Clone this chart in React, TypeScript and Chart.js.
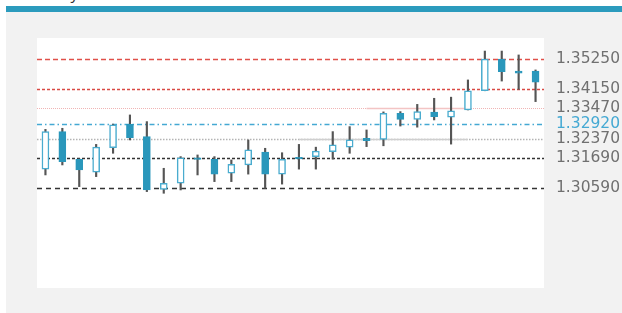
import React, { useEffect, useRef } from "react";
import { Chart, registerables } from "chart.js";

Chart.register(...registerables);

const categories: string[] = [
  "1", "2", "3", "4", "5", "6", "7", "8", "9", "10",
  "11", "12", "13", "14", "15", "16", "17", "18", "19", "20",
  "21", "22", "23", "24", "25", "26", "27", "28", "29", "30",
];
const opens: number[] = [
  1.3128, 1.3263, 1.3163, 1.3117, 1.3205, 1.3289, 1.3245, 1.3055, 1.3077, 1.3169,
  1.3163, 1.3113, 1.3143, 1.3189, 1.311, 1.317, 1.3173, 1.3191, 1.3207, 1.3239,
  1.3235, 1.3329, 1.3307, 1.3333, 1.3315, 1.3341, 1.341, 1.3524, 1.3481, 1.3481,
];
const closes: number[] = [
  1.3263, 1.3155, 1.3125, 1.3207, 1.3287, 1.3241, 1.3053, 1.3077, 1.3169, 1.3163,
  1.311, 1.3145, 1.3197, 1.311, 1.3163, 1.3165, 1.3193, 1.3215, 1.3233, 1.323,
  1.3329, 1.3307, 1.3335, 1.3317, 1.3338, 1.341, 1.3524, 1.3479, 1.3473, 1.3441,
];
const highs: number[] = [
  1.3271, 1.3275, 1.3165, 1.3217, 1.329, 1.3323, 1.3299, 1.3131, 1.3173, 1.3179,
  1.3173, 1.3161, 1.3233, 1.3203, 1.3187, 1.3217, 1.3207, 1.3263, 1.3281, 1.3269,
  1.3334, 1.3335, 1.3361, 1.3383, 1.3387, 1.3449, 1.3553, 1.3553, 1.3539, 1.3485,
];
const lows: number[] = [
  1.3107, 1.3143, 1.3065, 1.3101, 1.3185, 1.3233, 1.3047, 1.3041, 1.3053, 1.3107,
  1.3083, 1.3083, 1.311, 1.3059, 1.3074, 1.3128, 1.3128, 1.3164, 1.3185, 1.3209,
  1.3212, 1.3283, 1.3279, 1.3305, 1.3218, 1.3341, 1.341, 1.3445, 1.3415, 1.3371,
];
const levelValues: number[] = [1.3525, 1.3415, 1.3347, 1.3292, 1.3237, 1.3169, 1.3059];
const levelColors: string[] = ["#e0504a", "#d94a44", "#f0b4b4", "#45a9d3", "#b4b4b4", "#333333", "#333333"];
const levelDashes: number[][] = [[5, 3], [3, 2], [1, 1], [5, 3, 1.5, 3], [1.5, 1.5], [3, 2], [5, 4]];
const levelWidths: number[] = [1.5, 1.5, 1, 1.5, 1.5, 1.5, 1.5];
const labelColors: string[] = ["#707070", "#707070", "#707070", "#45a9d3", "#707070", "#707070", "#707070"];

const UP_BORDER = "#4aaccf";
const DOWN_FILL = "#2a97bb";

export default function App() {
  const ref = useRef<HTMLCanvasElement | null>(null);

  useEffect(() => {
    if (!ref.current) return;
    const up = (i: number) => closes[i] >= opens[i];

    const bgPlugin = {
      id: "bg",
      beforeDraw(chart: any) {
        const { ctx, chartArea } = chart;
        ctx.save();
        ctx.fillStyle = "#f2f2f2";
        ctx.fillRect(0, 0, chart.width, chart.height);
        ctx.fillStyle = "#ffffff";
        ctx.fillRect(chartArea.left, chartArea.top, chartArea.right - chartArea.left, chartArea.bottom - chartArea.top);
        ctx.restore();
      },
    };

    const levelsPlugin = {
      id: "levels",
      beforeDatasetsDraw(chart: any) {
        const { ctx, chartArea, scales } = chart;
        const y = scales.y;
        const x = scales.x;
        ctx.save();
        levelValues.forEach((v, i) => {
          const py = Math.round(y.getPixelForValue(v)) + 0.5;
          ctx.beginPath();
          ctx.strokeStyle = levelColors[i];
          ctx.lineWidth = levelWidths[i];
          ctx.setLineDash(levelDashes[i]);
          ctx.moveTo(chartArea.left, py);
          ctx.lineTo(chartArea.right, py);
          ctx.stroke();
        });
        ctx.setLineDash([]);
        const segs: [number, number, number, string][] = [
          [1.3347, 19, 25, "#f3c4c4"],
          [1.3237, 15, 25, "#cfcfcf"],
        ];
        segs.forEach(([v, a, b, c]) => {
          const py = Math.round(y.getPixelForValue(v)) + 0.5;
          ctx.beginPath();
          ctx.strokeStyle = c;
          ctx.lineWidth = 1.5;
          ctx.moveTo(x.getPixelForValue(a), py);
          ctx.lineTo(x.getPixelForValue(b), py);
          ctx.stroke();
        });
        ctx.restore();
      },
    };

    const chart = new Chart(ref.current, {
      type: "bar",
      data: {
        labels: categories,
        datasets: [
          {
            label: "Body",
            data: opens.map((o, i) => [o, closes[i]]) as any,
            backgroundColor: (c: any) => (up(c.dataIndex) ? "#ffffff" : DOWN_FILL),
            borderColor: (c: any) => (up(c.dataIndex) ? UP_BORDER : DOWN_FILL),
            borderWidth: 1.5,
            borderSkipped: false,
            barThickness: 7,
            grouped: false,
          } as any,
          {
            label: "Wick",
            data: lows.map((l, i) => [l, highs[i]]) as any,
            backgroundColor: "#555555",
            borderWidth: 0,
            barThickness: 1.5,
            grouped: false,
          } as any,
        ],
      },
      options: {
        animation: false,
        responsive: false,
        maintainAspectRatio: false,
        layout: { padding: { left: 31, top: 26, bottom: 25, right: 0 } },
        plugins: { legend: { display: false }, tooltip: { enabled: false } },
        scales: {
          x: { display: false, offset: true, grid: { display: false } },
          y: {
            position: "right",
            min: 1.27,
            max: 1.36,
            grid: { display: false },
            border: { display: false },
            afterBuildTicks: (scale: any) => {
              scale.ticks = levelValues.map((v) => ({ value: v }));
            },
            afterFit: (scale: any) => {
              scale.width = 78;
            },
            ticks: {
              autoSkip: false,
              padding: 4,
              font: { family: "'DejaVu Sans', sans-serif", size: 15.5 },
              color: (c: any) => {
                const idx = levelValues.indexOf(c.tick.value);
                return idx >= 0 ? labelColors[idx] : "#707070";
              },
              callback: (v: any) => Number(v).toFixed(5),
            },
          },
        },
      },
      plugins: [bgPlugin, levelsPlugin],
    });
    return () => chart.destroy();
  }, []);

  return (
    <div style={{ position: "fixed", left: 0, top: 0, width: 622, height: 313, background: "#ffffff", overflow: "hidden" }}>
      <div
        style={{
          position: "absolute",
          left: 42,
          top: -15,
          fontFamily: "'Open Sans', sans-serif",
          fontSize: 16,
          lineHeight: "16px",
          color: "#333",
        }}
      >
        Daily
      </div>
      <div style={{ position: "absolute", left: 6, top: 6, width: 616, height: 6, background: "#2b9bbd" }} />
      <canvas ref={ref} width={616} height={301} style={{ position: "absolute", left: 6, top: 12, width: 616, height: 301 }} />
    </div>
  );
}
